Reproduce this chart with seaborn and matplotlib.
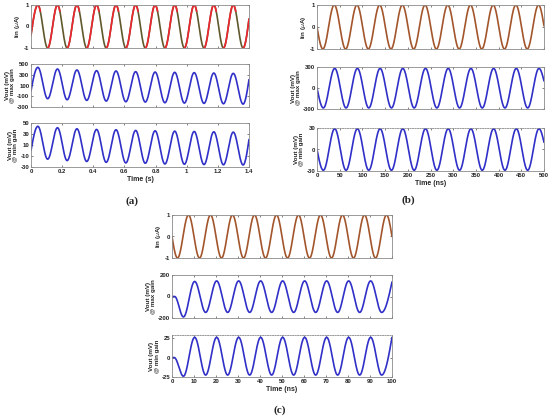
import numpy as np
import pandas as pd
import matplotlib
matplotlib.use("Agg")
import matplotlib.pyplot as plt
import seaborn as sns

sns.set_style("ticks")
plt.rcParams['font.family'] = ['Liberation Sans', 'DejaVu Sans']

# -------------------- values --------------------
# (a) time axis in s, extrema positions shared by the three traces
a_peak_t = [0.044, 0.170, 0.295, 0.421, 0.546, 0.672, 0.797, 0.923, 1.048, 1.174, 1.299]
a_trough_t = [0.107, 0.232, 0.358, 0.483, 0.609, 0.734, 0.860, 0.985, 1.111, 1.236, 1.362]
a_iin_peak = [1, 1, 1, 1, 1, 1, 1, 1, 1, 1, 1]
a_iin_trough = [-1, -1, -1, -1, -1, -1, -1, -1, -1, -1, -1]
a_iin_ends = [(0.0, -0.4), (1.4, 0.35)]
a_vmax_peak = [438, 407, 389, 376, 370, 357, 350, 345, 339, 332, 326]
a_vmax_trough = [-146, -165, -177, -190, -202, -208, -221, -227, -233, -240, -246]
a_vmax_ends = [(0.0, 0), (1.4, 210)]
a_vmin_peak = [44, 41.4, 39.5, 38.3, 37.7, 36.5, 35.8, 35.2, 34.6, 34, 33.4]
a_vmin_trough = [-15.8, -18.3, -20, -21.5, -22.6, -23.2, -24.5, -25, -25.6, -26, -26.3]
a_vmin_ends = [(0.0, 0), (1.4, 20)]

# (b) time axis in ns
b_iin_peak_t = [38, 88, 138, 188, 238, 288, 338, 388, 438, 488]
b_iin_trough_t = [13, 63, 113, 163, 213, 263, 313, 363, 413, 463]
b_iin_peak = [1, 1, 1, 1, 1, 1, 1, 1, 1, 1]
b_iin_trough = [-1, -1, -1, -1, -1, -1, -1, -1, -1, -1]
b_iin_ends = [(0, 0), (500, 0.05)]
b_v_peak_t = [39, 89, 139, 189, 239, 289, 339, 389, 439, 489]
b_v_trough_t = [14, 64, 114, 164, 214, 264, 314, 364, 414, 464]
b_vmax_peak = [280, 280, 280, 280, 280, 280, 280, 280, 280, 280]
b_vmax_trough = [-285, -285, -285, -285, -285, -285, -285, -285, -285, -285]
b_vmax_ends = [(0, 0), (500, 100)]
b_vmin_peak = [29, 29, 29, 29, 29, 29, 29, 29, 29, 29]
b_vmin_trough = [-29, -29, -29, -29, -29, -29, -29, -29, -29, -29]
b_vmin_ends = [(0, 0), (500, 10)]

# (c) time axis in ns
c_iin_peak_t = [7.5, 17.5, 27.5, 37.5, 47.5, 57.5, 67.5, 77.5, 87.5, 97.5]
c_iin_trough_t = [2.5, 12.5, 22.5, 32.5, 42.5, 52.5, 62.5, 72.5, 82.5, 92.5]
c_iin_peak = [1, 1, 1, 1, 1, 1, 1, 1, 1, 1]
c_iin_trough = [-1, -1, -1, -1, -1, -1, -1, -1, -1, -1]
c_iin_ends = [(0, 0), (100, 0)]
c_v_peak_t = [10.3, 20.3, 30.3, 40.3, 50.3, 60.3, 70.3, 80.3, 90.3]
c_v_trough_t = [5.2, 15.3, 25.3, 35.3, 45.3, 55.3, 65.3, 75.3, 85.3, 95.3]
c_vmax_peak = [140, 145, 145, 145, 145, 145, 145, 145, 145]
c_vmax_trough = [-190, -148, -148, -148, -148, -148, -148, -148, -148, -148]
c_vmax_ends = [(0, 0), (1.2, 0), (100, 135)]
c_vmin_peak = [26, 26, 26, 26, 26, 26, 26, 26, 26]
c_vmin_trough = [-24, -22.5, -22.5, -22.5, -22.5, -22.5, -22.5, -22.5, -22.5, -22.5]
c_vmin_ends = [(0, 0), (1.0, 0), (100, 26)]

ylabels = ['Iin ($\\mu$A)', 'Vout (mV)\n@ max gain', 'Vout (mV)\n@ min gain']

C_BLUE = '#3030c8'
C_BROWN = '#a3552c'
C_RED = '#ee2630'
C_DARK = '#60582c'


def knots(peak_t, peak_v, trough_t, trough_v, ends):
    t = np.concatenate([peak_t, trough_t, [e[0] for e in ends]]).astype(float)
    v = np.concatenate([peak_v, trough_v, [e[1] for e in ends]]).astype(float)
    order = np.argsort(t)
    return t[order], v[order]


def curve(peak_t, peak_v, trough_t, trough_v, ends, n=40):
    # smooth line through the read extrema (cosine shaped between them)
    kt, kv = knots(peak_t, peak_v, trough_t, trough_v, ends)
    last = len(kt) - 2
    ts, vs = [], []
    for i in range(len(kt) - 1):
        s = np.linspace(0, 1, n, endpoint=(i == last))
        if i == 0:
            w = np.sin(np.pi / 2 * s)
        elif i == last:
            w = 1 - np.cos(np.pi / 2 * s)
        else:
            w = (1 - np.cos(np.pi * s)) / 2
        ts.append(kt[i] + (kt[i + 1] - kt[i]) * s)
        vs.append(kv[i] + (kv[i + 1] - kv[i]) * w)
    return pd.DataFrame({'t': np.concatenate(ts), 'v': np.concatenate(vs)})


FW, FH = 550, 419
fig = plt.figure(figsize=(FW / 100, FH / 100), dpi=100)


def add_ax(l, r, top, bot):
    return fig.add_axes([l / FW, 1 - bot / FH, (r - l) / FW, (bot - top) / FH])


def style(ax, xlim, xticks, xlabels, ylim, yticks, ylabel, bottom, dotted_top=False):
    ax.set_xlim(*xlim)
    ax.set_ylim(*ylim)
    ax.set_yticks(yticks)
    ax.set_yticklabels([str(y) for y in yticks], fontsize=4.3, fontweight='bold')
    ax.set_xticks(xticks)
    if bottom:
        ax.set_xticklabels(xlabels, fontsize=4.3, fontweight='bold')
    else:
        ax.set_xticklabels([])
    ax.tick_params(direction='in', length=1.5, width=0.4, pad=1.2, colors='#222222',
                   top=True, right=True)
    for sp in ax.spines.values():
        sp.set_color('#8a8a8a')
        sp.set_linewidth(0.6)
    if dotted_top:
        ax.spines['top'].set_linestyle((0, (1.5, 1.5)))
    ax.set_ylabel(ylabel, fontsize=4.5, fontweight='bold', labelpad=1.5, linespacing=1.1)
    ax.set_xlabel('')


def draw(ax, df, color):
    sns.lineplot(data=df, x='t', y='v', ax=ax, color=color, lw=1.2, sort=False,
                 estimator=None)


panels = {
    'a': dict(x=(31, 249), rows=[(5, 48), (64, 107), (123, 167)],
              xlim=(0, 1.4), xticks=[0, 0.2, 0.4, 0.6, 0.8, 1.0, 1.2, 1.4],
              xlabels=['0', '0.2', '0.4', '0.6', '0.8', '1', '1.2', '1.4'],
              xlabel='Time (s)',
              ylims=[(-1, 1), (-300, 500), (-30, 50)],
              yticks=[[-1, 0, 1], [-300, -100, 100, 300, 500], [-30, -10, 10, 30, 50]],
              data=[curve(a_peak_t, a_iin_peak, a_trough_t, a_iin_trough, a_iin_ends),
                    curve(a_peak_t, a_vmax_peak, a_trough_t, a_vmax_trough, a_vmax_ends),
                    curve(a_peak_t, a_vmin_peak, a_trough_t, a_vmin_trough, a_vmin_ends)],
              tag=(132, 201), dotted=False),
    'b': dict(x=(317, 544), rows=[(5, 49), (67, 109), (128, 171)],
              xlim=(0, 500), xticks=list(range(0, 501, 50)),
              xlabels=[str(v) for v in range(0, 501, 50)],
              xlabel='Time (ns)',
              ylims=[(-1, 1), (-300, 300), (-30, 30)],
              yticks=[[-1, 0, 1], [-300, 0, 300], [-30, 0, 30]],
              data=[curve(b_iin_peak_t, b_iin_peak, b_iin_trough_t, b_iin_trough, b_iin_ends),
                    curve(b_v_peak_t, b_vmax_peak, b_v_trough_t, b_vmax_trough, b_vmax_ends),
                    curve(b_v_peak_t, b_vmin_peak, b_v_trough_t, b_vmin_trough, b_vmin_ends)],
              tag=(408, 200), dotted=True),
    'c': dict(x=(172, 392), rows=[(215, 258), (275, 318), (335, 377)],
              xlim=(0, 100), xticks=list(range(0, 101, 10)),
              xlabels=[str(v) for v in range(0, 101, 10)],
              xlabel='Time (ns)',
              ylims=[(-1, 1), (-200, 200), (-25, 29)],
              yticks=[[-1, 0, 1], [-200, 0, 200], [-25, 0, 25]],
              data=[curve(c_iin_peak_t, c_iin_peak, c_iin_trough_t, c_iin_trough, c_iin_ends),
                    curve(c_v_peak_t, c_vmax_peak, c_v_trough_t, c_vmax_trough, c_vmax_ends),
                    curve(c_v_peak_t, c_vmin_peak, c_v_trough_t, c_vmin_trough, c_vmin_ends)],
              tag=(280, 410), dotted=True),
}

for key, p in panels.items():
    l, r = p['x']
    for i, (top, bot) in enumerate(p['rows']):
        ax = add_ax(l, r, top, bot)
        df = p['data'][i]
        if i == 0 and key == 'a':
            # two overlapping current traces: dark one with red on top of the rising edges
            draw(ax, df, C_DARK)
            rising = (np.gradient(df['v'].values) > 0) | (df['v'].values > 0.7)
            seg = np.cumsum(np.r_[1, np.diff(rising.astype(int)) != 0])
            red = df.assign(seg=seg)[rising]
            sns.lineplot(data=red, x='t', y='v', units='seg', ax=ax, color=C_RED,
                         lw=1.2, sort=False, estimator=None)
        else:
            draw(ax, df, C_BROWN if i == 0 else C_BLUE)
        style(ax, p['xlim'], p['xticks'], p['xlabels'], p['ylims'][i], p['yticks'][i],
              ylabels[i], bottom=(i == 2), dotted_top=(p['dotted'] and i == 2))
        if i == 2:
            ax.set_xlabel(p['xlabel'], fontsize=5, fontweight='bold', labelpad=1.5)
    fig.text(p['tag'][0] / FW, 1 - p['tag'][1] / FH, '(' + key + ')', ha='center',
             va='center', fontsize=8, fontweight='bold', family='Liberation Serif')

fig.savefig('out.png', dpi=100)
